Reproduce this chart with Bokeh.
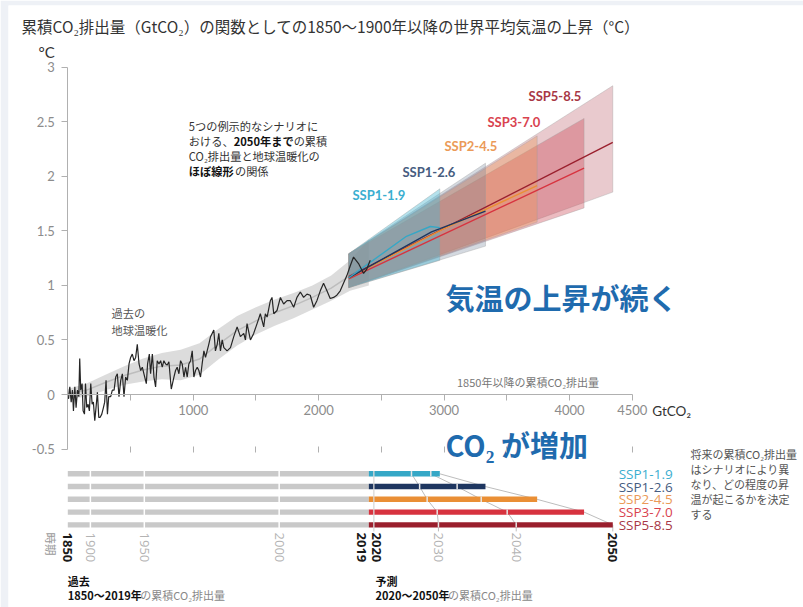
import math
from bokeh.plotting import figure
from bokeh.models import Range1d, LinearAxis, FixedTicker
from bokeh.core.properties import value
from bokeh.embed import file_html
from bokeh.resources import INLINE

# ---------------- data ----------------
# historical annual warming vs cumulative CO2 (GtCO2, degC)
hist_x = [5, 16, 27, 37, 45, 56, 66, 77, 88, 95, 103, 114, 122, 133, 141, 151, 162, 172, 183, 194,
          204, 215, 225, 236, 247, 257, 271, 284, 294, 305, 316, 326, 342, 355, 369, 382, 395, 408,
          422, 435, 448, 461, 475, 488, 501, 514, 528, 541, 554, 568, 581, 594, 607, 626, 636, 650,
          660, 674, 687, 700, 713, 727, 740, 753, 766, 780, 793, 806, 825, 846, 859, 872, 886, 899,
          912, 926, 939, 952, 965, 979, 992, 1005, 1018, 1032, 1045, 1058, 1071, 1085, 1098, 1111,
          1124, 1138, 1164, 1177, 1191, 1204, 1217, 1231, 1244, 1270, 1297, 1323, 1350, 1376, 1403,
          1416, 1429, 1456, 1482, 1509, 1535, 1562, 1575, 1589, 1615, 1628, 1642, 1668, 1695, 1721,
          1748, 1774, 1801, 1827, 1854, 1880, 1907, 1933, 1960, 1986, 2013, 2039, 2066, 2092, 2119,
          2145, 2172, 2198, 2225, 2252, 2278, 2318, 2358, 2384, 2411]
hist_y = [-0.04, 0.07, -0.07, 0.04, -0.15, 0.07, -0.12, 0.04, -0.02, 0.33, 0.04, 0.10, -0.15, -0.18,
          0.10, -0.12, -0.09, -0.15, 0.10, -0.09, -0.07, -0.24, -0.12, 0.02, -0.21, -0.21, -0.18,
          -0.12, -0.07, 0.13, -0.18, -0.02, -0.02, 0.04, 0.04, 0.16, 0.19, -0.02, 0.13, 0.19, -0.02,
          0.16, 0.13, 0.28, 0.34, 0.37, 0.31, 0.34, 0.46, 0.28, 0.22, 0.25, 0.19, 0.10, 0.28, 0.37,
          0.19, 0.37, 0.16, 0.07, 0.31, 0.28, 0.31, 0.25, 0.31, 0.28, 0.27, 0.30, 0.05, 0.16, 0.22,
          0.25, 0.19, 0.31, 0.28, 0.16, 0.25, 0.16, 0.28, 0.31, 0.40, 0.16, 0.22, 0.25, 0.22, 0.16,
          0.28, 0.40, 0.34, 0.40, 0.46, 0.53, 0.59, 0.40, 0.46, 0.56, 0.40, 0.50, 0.43, 0.40, 0.43,
          0.53, 0.62, 0.53, 0.56, 0.50, 0.65, 0.50, 0.56, 0.65, 0.74, 0.62, 0.74, 0.71, 0.86, 0.89,
          0.74, 0.77, 0.89, 0.83, 0.86, 0.86, 0.80, 0.89, 0.94, 0.89, 0.92, 0.91, 0.80, 0.86, 0.95,
          1.02, 0.95, 0.88, 0.89, 0.91, 0.95, 1.02, 1.09, 1.18, 1.26, 1.20, 1.11, 1.15, 1.23]

# smoothed historical range
band_x = [0, 150, 300, 450, 600, 750, 900, 1050, 1200, 1350, 1500, 1650, 1800, 1950, 2100, 2250, 2400]
band_lo = [-0.04, -0.02, 0.04, 0.09, 0.12, 0.14, 0.13, 0.18, 0.32, 0.45, 0.55, 0.63, 0.70, 0.78, 0.86, 0.95, 1.00]
band_hi = [0.05, 0.10, 0.18, 0.26, 0.33, 0.38, 0.41, 0.47, 0.60, 0.72, 0.80, 0.87, 0.93, 1.00, 1.09, 1.23, 1.42]

scenarios = ["SSP1-1.9", "SSP1-2.6", "SSP2-4.5", "SSP3-7.0", "SSP5-8.5"]
# cumulative CO2 emissions at 2030 / 2040 / 2050 (GtCO2)
cum_2030 = [2740, 2805, 2865, 2945, 2955]
cum_2040 = [2894, 3104, 3296, 3503, 3575]
cum_2050 = [2966, 3330, 3742, 4116, 4345]

# projected warming fans
fan_start_x = 2240
fan_start_lo = 0.98
fan_start_hi = 1.29
fan_end_lo = [1.23, 1.36, 1.58, 1.71, 1.855]
fan_end_hi = [1.885, 2.12, 2.37, 2.53, 2.83]
# central estimates
mid_x = [[2240, 2700, 2890, 2966],
         [2240, 2900, 3330],
         [2240, 3000, 3742],
         [2240, 4116],
         [2240, 4345]]
mid_y = [[1.07, 1.45, 1.54, 1.53],
         [1.07, 1.49, 1.68],
         [1.07, 1.52, 1.915],
         [1.06, 2.075],
         [1.08, 2.31]]

# historical timeline
hist_years = ["1850", "1900", "1950", "2000", "2019"]
hist_cum = [0, 180, 610, 1685, 2400]
start_2020 = 2440

y_ticks = [-0.5, 0, 0.5, 1, 1.5, 2, 2.5, 3]
y_tick_labels = ["-0.5", "0", "0.5", "1", "1.5", "2", "2.5", "3"]
x_ticks = [500, 1000, 1500, 2000, 2500, 3000, 3500, 4000, 4500]
x_tick_labels = ["", "1000", "", "2000", "", "3000", "", "4000", "4500"]

# ---------------- styles ----------------
line_colors = ["#35a7c6", "#1e3660", "#ea8f35", "#d7333f", "#9a1f2d"]
label_colors = ["#3aaed0", "#465c80", "#eb9a58", "#d9434f", "#a83745"]
fan_colors = ["#4cb8d2", "#6f8098", "#eb9650", "#c83c4b", "#b5505e"]
fan_alphas = [0.42, 0.3, 0.35, 0.35, 0.3]
JP = value("Noto Sans CJK JP")
LATO = value("Lato")

p = figure(width=803, height=607,
           x_range=Range1d(-472.8, 5865.5), y_range=Range1d(-1.9523, 3.5655),
           output_backend="svg", toolbar_location=None,
           x_axis_type=None, y_axis_type=None,
           min_border_left=8, min_border_top=5, min_border_right=0, min_border_bottom=0,
           border_fill_color="#eef1f6", background_fill_color="white",
           outline_line_color=None)

# axes
yax = LinearAxis(fixed_location=0, bounds=(-0.5, 3), ticker=FixedTicker(ticks=y_ticks),
                 major_label_overrides={t: l for t, l in zip(y_ticks, y_tick_labels)})
yax.axis_line_color = "#b0b0b0"
yax.major_tick_line_color = "#b0b0b0"
yax.major_tick_out = 6
yax.major_tick_in = 0
yax.minor_tick_line_color = None
yax.major_label_standoff = 7
yax.major_label_text_font = "Lato"
yax.major_label_text_font_size = "13px"
yax.major_label_text_color = "#8c8c8c"
p.add_layout(yax, "left")

xax = LinearAxis(fixed_location=0, bounds=(0, 4500), ticker=FixedTicker(ticks=x_ticks),
                 major_label_overrides={t: l for t, l in zip(x_ticks, x_tick_labels)})
xax.axis_line_color = "#b0b0b0"
xax.major_tick_line_color = "#b0b0b0"
xax.major_tick_out = 6
xax.major_tick_in = 0
xax.minor_tick_line_color = None
xax.major_label_standoff = 4
xax.major_label_text_font = "Lato"
xax.major_label_text_font_size = "13px"
xax.major_label_text_color = "#8c8c8c"
p.add_layout(xax, "below")

xax2 = LinearAxis(fixed_location=-0.5, bounds=(0, 4500), ticker=FixedTicker(ticks=x_ticks),
                  major_label_overrides={t: "" for t in x_ticks})
xax2.axis_line_color = None
xax2.major_tick_line_color = "#b0b0b0"
xax2.major_tick_out = 3
xax2.major_tick_in = 3
xax2.minor_tick_line_color = None
p.add_layout(xax2, "below")

# historical band
band_mid = [(a + b) / 2 for a, b in zip(band_lo, band_hi)]
p.varea(x=band_x, y1=band_lo, y2=band_hi, fill_color="#d3d3d3", fill_alpha=0.8)
p.line(band_x, band_mid, line_color="#bdbdbd", line_width=1.5)

# fans (largest first)
for i in reversed(range(5)):
    e = cum_2050[i]
    p.patch([fan_start_x, e, e, fan_start_x],
            [fan_start_lo, fan_end_lo[i], fan_end_hi[i], fan_start_hi],
            fill_color=fan_colors[i], fill_alpha=fan_alphas[i],
            line_color="#9a9a9a", line_alpha=0.35, line_width=1)
for i in reversed(range(5)):
    p.line(mid_x[i], mid_y[i], line_color=line_colors[i], line_width=1.4)

# historical line
p.line(hist_x, hist_y, line_color="#262626", line_width=1.2)

# scenario labels on chart
lab_x = [2269, 2668, 3003, 3346, 3673]
lab_y = [1.83, 2.035, 2.28, 2.50, 2.74]
p.text(x=lab_x, y=lab_y, text=scenarios, text_color=label_colors, text_font=LATO,
       text_font_size="13px", text_font_style="bold", text_align="left", text_baseline="middle")

# ---------------- timeline ----------------
row_y = [-0.727 - 0.117 * i for i in range(5)]
bar_h = 0.05
p.hbar(y=row_y, left=0, right=hist_cum[-1], height=bar_h, fill_color="#c9c9c9", line_color=None)

# connector lines (drawn under coloured bars)
label_top = -1.255
for cum in (cum_2030, cum_2040, cum_2050):
    p.line(list(cum) + [cum[-1]], row_y + [label_top], line_color="#bdbdbd", line_width=1)

p.hbar(y=row_y, left=hist_cum[-1], right=cum_2050, height=bar_h, fill_color=line_colors,
       line_color=None)

# separators
for xs in hist_cum[1:4]:
    p.segment(x0=xs, y0=row_y[0] + bar_h / 2 + 0.01, x1=xs, y1=row_y[-1] - bar_h / 2 - 0.01,
              line_color="white", line_width=1.5)
for cum in (cum_2030, cum_2040):
    p.segment(x0=cum, y0=[r + bar_h / 2 for r in row_y], x1=cum, y1=[r - bar_h / 2 for r in row_y],
              line_color="#e6e6e6", line_width=1.5)
p.segment(x0=start_2020, y0=row_y[0] + bar_h / 2, x1=start_2020, y1=label_top,
          line_color="#d9d9d9", line_width=1.3)

# year labels (rotated)
ang = -math.pi / 2
lab_top = -1.265
p.text(x=[hist_cum[0]], y=[lab_top], text=["1850"], angle=ang, text_font=value("Open Sans"),
       text_font_style="bold", text_font_size="13px", text_color="#1a1a1a",
       text_align="left", text_baseline="middle")
p.text(x=hist_cum[1:4], y=[lab_top] * 3, text=hist_years[1:4], angle=ang, text_font=value("Open Sans"),
       text_font_size="13px", text_color="#b3b3b3", text_align="left", text_baseline="middle")
p.text(x=[hist_cum[4]], y=[lab_top], text=["2019"], angle=ang, x_offset=-7, text_font=value("Open Sans"),
       text_font_style="bold", text_font_size="13px", text_color="#1a1a1a",
       text_align="left", text_baseline="middle")
p.text(x=[hist_cum[4]], y=[lab_top], text=["2020"], angle=ang, x_offset=8, text_font=value("Open Sans"),
       text_font_style="bold", text_font_size="13px", text_color="#1a1a1a",
       text_align="left", text_baseline="middle")
p.text(x=[cum_2030[-1], cum_2040[-1]], y=[lab_top] * 2, text=["2030", "2040"], angle=ang,
       text_font=value("Open Sans"), text_font_size="13px", text_color="#b3b3b3",
       text_align="left", text_baseline="middle")
p.text(x=[cum_2050[-1]], y=[lab_top], text=["2050"], angle=ang, text_font=value("Open Sans"),
       text_font_style="bold", text_font_size="13px", text_color="#1a1a1a",
       text_align="left", text_baseline="middle")
p.text(x=[-130], y=[lab_top], text=["時期"], angle=ang, text_font=JP, text_font_size="11.5px",
       text_color="#9a9a9a", text_align="left", text_baseline="middle")

# timeline scenario labels
p.text(x=[4392] * 5, y=row_y, text=scenarios, text_color=label_colors, text_font=value("Open Sans"),
       text_font_size="13.5px", text_align="left", text_baseline="middle")


# ---------------- texts ----------------
def text_w(s, size, bold=False):
    w = 0.0
    for ch in s:
        if ord(ch) > 0x2E80:
            w += 1.0
        elif ch.isdigit():
            w += 0.55
        elif ch == "₂":
            w += 0.42
        elif ch in "CO":
            w += 0.64
        else:
            w += 0.5
    return w * size * (1.03 if bold else 1.0)


def rich(x, y, segments, size, step):
    offs = {}
    for line, txt, bold, col in segments:
        xo = offs.get(line, 0.0)
        p.text(x=[x], y=[y], text=[txt], x_offset=xo, y_offset=line * step,
               text_font=JP, text_font_size=f"{size}px",
               text_font_style="bold" if bold else "normal",
               text_color=col, text_align="left", text_baseline="middle")
        offs[line] = xo + text_w(txt, size, bold)


rich(965, 2.457, [
    (0, "5つの例示的なシナリオに", False, "#333333"),
    (1, "おける、", False, "#333333"), (1, "2050年まで", True, "#111111"), (1, "の累積", False, "#333333"),
    (2, "CO₂排出量と地球温暖化の", False, "#333333"),
    (3, "ほぼ線形", True, "#111111"), (3, "の関係", False, "#333333"),
], 11.2, 14.9)

p.text(x=[349], y=[0.745], text=["過去の"], text_font=JP, text_font_size="11.2px",
       text_color="#555555", text_align="left", text_baseline="middle")
p.text(x=[349], y=[0.745], y_offset=16.6, text=["地球温暖化"], text_font=JP, text_font_size="11.2px",
       text_color="#555555", text_align="left", text_baseline="middle")

p.text(x=[3669], y=[0.113], text=["1850年以降の累積CO₂排出量"], text_font=JP, text_font_size="11px",
       text_color="#777777", text_align="center", text_baseline="middle")
p.text(x=[4660], y=[-0.147], text=["GtCO₂"], text_font=LATO, text_font_size="13.5px",
       text_color="#333333", text_align="left", text_baseline="middle")

p.text(x=[3011], y=[0.898], text=["気温の上昇が続く"], text_font=JP, text_font_size="29px",
       text_font_style="bold", text_color="#1f6bae", text_align="left", text_baseline="middle")
p.text(x=[3011], y=[-0.458], text=["CO₂ が増加"], text_font=JP, text_font_size="29px",
       text_font_style="bold", text_color="#1f6bae", text_align="left", text_baseline="middle")

p.text(x=[-233], y=[3.135], text=["°C"], text_font=LATO, text_font_size="15px",
       text_color="#333333", text_align="left", text_baseline="middle")
p.text(x=[-369], y=[3.382], text=["累積CO₂排出量（GtCO₂）の関数としての1850～1900年以降の世界平均気温の上昇（°C）"],
       text_font=JP, text_font_size="15.5px", text_color="#333333",
       text_align="left", text_baseline="middle")

# right note
note = ["将来の累積CO₂排出量", "はシナリオにより異", "なり、どの程度の昇", "温が起こるかを決定", "する"]
p.text(x=[4964] * 5, y=[-0.541] * 5, y_offset=[15 * i for i in range(5)], text=note,
       text_font=JP, text_font_size="11px", text_color="#555555",
       text_align="left", text_baseline="middle")

# bottom captions
rich(0, -1.705, [
    (0, "過去", True, "#111111"),
    (1, "1850～2019年", True, "#111111"), (1, "の累積CO₂排出量", False, "#888888"),
], 11, 14.5)
rich(2453, -1.705, [
    (0, "予測", True, "#111111"),
    (1, "2020～2050年", True, "#111111"), (1, "の累積CO₂排出量", False, "#888888"),
], 11, 14.5)

open("out.html", "w").write(file_html(p, INLINE))
